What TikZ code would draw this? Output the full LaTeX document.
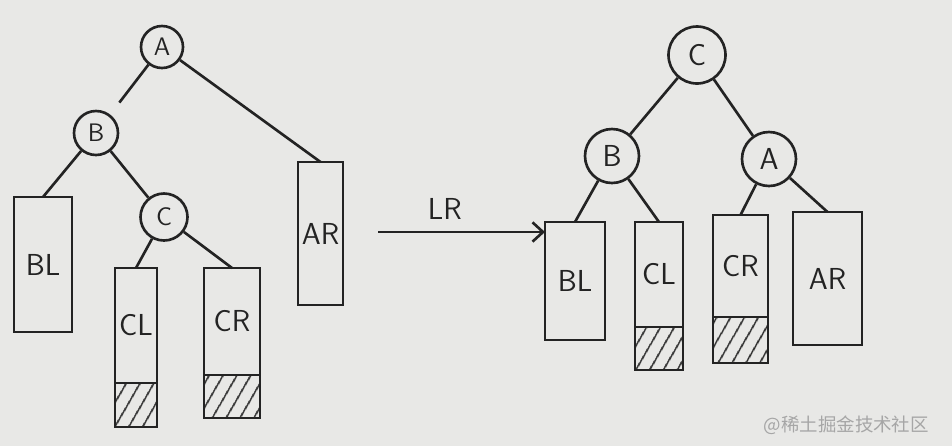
\documentclass[tikz,border=0pt]{standalone}
\usepackage{fontspec}
\newfontfamily\cjk{Noto Sans CJK SC}
\usepackage{tikz}
\usetikzlibrary{patterns.meta,arrows.meta}
\definecolor{paper}{RGB}{232,232,230}
\definecolor{ink}{RGB}{35,35,35}

\begin{document}
\begin{tikzpicture}[x=0.2mm,y=-0.2mm,line width=1.5pt,color=ink,
  key/.style={draw,circle,inner sep=0pt,font=\sffamily\Large},
  sub/.style={draw,rectangle,inner sep=0pt,outer sep=0pt,font=\sffamily\LARGE},
  hatch/.style={draw,rectangle,inner sep=0pt,outer sep=0pt,anchor=north,
    pattern={Lines[angle=60,distance=6.5pt,line width=1pt]},pattern color=ink}]
\useasboundingbox[fill=paper] (0,0) rectangle (952,446);
% before: A is unbalanced
\node [key,minimum size=8.4mm] (A) at (162,47) {A};
\node [key,minimum size=8.8mm] (B) at (96,133) {B};
\node [key,minimum size=9.4mm] (C) at (164,217) {C};
\node [sub,minimum width=11.6mm,minimum height=27mm] (BL) at (43,264.5) {BL};
\node [sub,minimum width=8.4mm,minimum height=23mm] (CL) at (136,325.5) {CL};
\node [hatch,minimum width=8.4mm,minimum height=8.8mm] (CLh) at (CL.south) {};
\node [sub,minimum width=11.2mm,minimum height=21.4mm] (CR) at (232,321.5) {CR};
\node [hatch,minimum width=11.2mm,minimum height=8.6mm] (CRh) at (CR.south) {};
\node [sub,minimum width=9mm,minimum height=28.6mm] (AR) at (320.5,233.5) {AR};
	\draw [shorten >=3mm] (A) to (B);
	\draw (A) to (AR.north);
	\draw (B) to (BL.north);
	\draw (B) to (C);
	\draw (C) to (CL.north);
	\draw (C) to (CR.north);
% after the LR rotation
\node [key,minimum size=11.4mm,font=\sffamily\LARGE] (C2) at (697,55) {C};
\node [key,minimum size=10.8mm,font=\sffamily\LARGE] (B2) at (612,156) {B};
\node [key,minimum size=10.8mm,font=\sffamily\LARGE] (A2) at (769,159) {A};
\node [sub,minimum width=12mm,minimum height=23.6mm] (BL2) at (575,281) {BL};
\node [sub,minimum width=9.6mm,minimum height=21mm] (CL2) at (659,274.5) {CL};
\node [hatch,minimum width=9.6mm,minimum height=8.6mm] (CL2h) at (CL2.south) {};
\node [sub,minimum width=11mm,minimum height=20.4mm] (CR2) at (740.5,266) {CR};
\node [hatch,minimum width=11mm,minimum height=9.2mm] (CR2h) at (CR2.south) {};
\node [sub,minimum width=13.8mm,minimum height=26.6mm] (AR2) at (827.5,278.5) {AR};
	\draw (C2) to (B2);
	\draw (C2) to (A2);
	\draw (B2) to (BL2.north);
	\draw (B2) to (CL2.north);
	\draw (A2) to (CR2.north);
	\draw (A2) to (AR2.north);
% rotation arrow
\coordinate (lrs) at (378,232);
\coordinate (lre) at (BL2.west |- lrs);
	\draw [-{Straight Barb[length=6pt,width=11pt]}] (lrs) to node[pos=0.4,above=3pt,font=\sffamily\LARGE] (LR) {LR} (lre);
\node [anchor=east,text=gray!70,font=\cjk\fontsize{10.5}{12}\selectfont] (wm) at (936,425) {@稀土掘金技术社区};
\end{tikzpicture}
\end{document}
